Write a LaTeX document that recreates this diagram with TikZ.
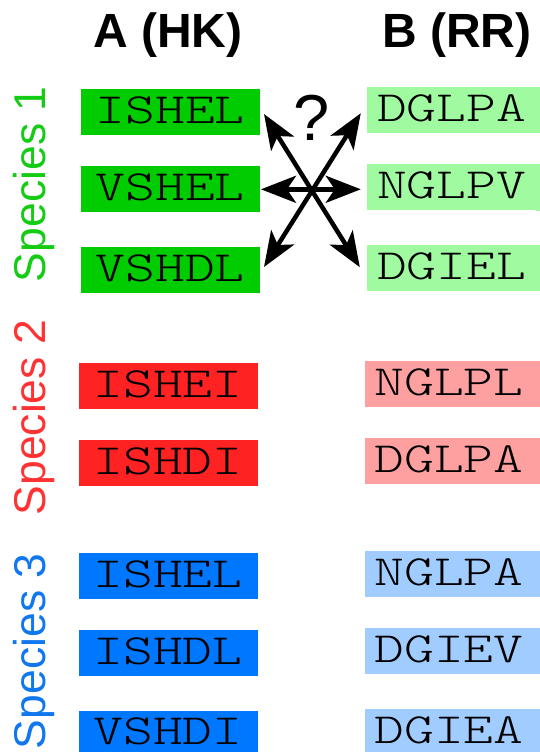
\documentclass[tikz,border=0pt]{standalone}
\usepackage{fontspec}
\usepackage{graphicx}
\usetikzlibrary{arrows.meta,calc}
\newfontfamily\hfont{Liberation Sans}
\definecolor{gA}{RGB}{0,204,0}
\definecolor{gB}{RGB}{160,250,160}
\definecolor{rA}{RGB}{255,34,34}
\definecolor{rB}{RGB}{255,160,160}
\definecolor{bA}{RGB}{0,119,255}
\definecolor{bB}{RGB}{160,204,255}
\definecolor{gT}{RGB}{20,204,20}
\definecolor{rT}{RGB}{255,51,51}
\definecolor{bT}{RGB}{17,119,238}
\newcommand{\sq}[1]{\scalebox{1.32}[1]{#1}}
\tikzset{
  seqbox/.style={rectangle, inner sep=0pt, minimum height=46pt, text depth=4pt,
    font=\fontsize{43pt}{43pt}\selectfont\ttfamily\fontseries{l}\selectfont, text=black},
  abox/.style={seqbox, minimum width=179pt},
  bbox/.style={seqbox, minimum width=169pt},
  head/.style={font=\fontsize{48pt}{48pt}\selectfont\hfont\bfseries, anchor=base, inner sep=0pt},
  spec/.style={font=\fontsize{44.5pt}{44.5pt}\selectfont\hfont, rotate=90, anchor=base, inner sep=0pt},
  bighead/.tip={Stealth[length=35pt 0, width=27pt 0, inset=9pt 0]},
  dbl/.style={line width=4.5pt, bighead-bighead}
}
\begin{document}
\begin{tikzpicture}[x=1pt,y=-1pt]
\useasboundingbox (0,0) rectangle (540,752);
\clip (0,0) rectangle (540,752);
% headings
\node[head] (hA) at (168,48) {A (HK)};
\node[head] (hB) at (457,48) {B (RR)};
% species labels
\node[spec, text=gT] (s1) at (45.7,184.3) {Species 1};
\node[spec, text=rT] (s2) at (45.7,417.6) {Species 2};
\node[spec, text=bT] (s3) at (45.7,651.3) {Species 3};
% species 1
\node[abox, fill=gA] (a1) at (170.3,112) {\sq{ISHEL}};
\node[abox, fill=gA] (a2) at (170.3,189.3) {\sq{VSHEL}};
\node[abox, fill=gA] (a3) at (170.3,270) {\sq{VSHDL}};
\node[bbox, fill=gB] (b1) at (451.5,110.2) {\sq{DGLPA}};
\node[bbox, fill=gB] (b2) at (451.5,187.3) {\sq{NGLPV}};
\node[bbox, fill=gB] (b3) at (451.5,268.2) {\sq{DGIEL}};
% species 2
\node[abox, fill=rA] (a4) at (168,385.7) {\sq{ISHEI}};
\node[abox, fill=rA] (a5) at (168,462.7) {\sq{ISHDI}};
\node[bbox, fill=rB] (b4) at (449,383.8) {\sq{NGLPL}};
\node[bbox, fill=rB] (b5) at (449,460.7) {\sq{DGLPA}};
% species 3
\node[abox, fill=bA] (a6) at (168,575.7) {\sq{ISHEL}};
\node[abox, fill=bA] (a7) at (168,652.8) {\sq{ISHDL}};
\node[abox, fill=bA, minimum height=41pt, text depth=0pt] (a8) at (168,731.4) {\sq{VSHDI}};
\node[bbox, fill=bB] (b6) at (449,573.8) {\sq{NGLPA}};
\node[bbox, fill=bB] (b7) at (449,651) {\sq{DGIEV}};
\node[bbox, fill=bB, minimum height=43pt, text depth=1.4pt] (b8) at (449,730.4) {\sq{DGIEA}};
% extend B boxes to right edge
\foreach \n/\c in {b1/gB,b2/gB,b3/gB,b4/rB,b5/rB,b6/bB,b7/bB,b8/bB}{
  \fill[\c] (\n.north east) rectangle ([xshift=30pt]\n.south east);
}
% question mark
\node[font=\fontsize{65pt}{65pt}\selectfont\hfont, anchor=base, inner sep=0pt] (q) at (311.5,140) {?};
% arrows
\coordinate (tl) at ($(a1.east)+(4,2)$);
\coordinate (tr) at ($(b1.west)+(-6,3)$);
\coordinate (tL) at ($(a2.east)+(1,0)$);
\coordinate (tR) at ($(b2.west)+(-6,2)$);
\coordinate (bl) at ($(a3.east)+(4,-3)$);
\coordinate (br) at ($(b3.west)+(-7,-1)$);
\draw[dbl] (tl) -- (br);
\draw[dbl] (tr) -- (bl);
\draw[dbl] (tL) -- (tR);
\end{tikzpicture}
\end{document}
